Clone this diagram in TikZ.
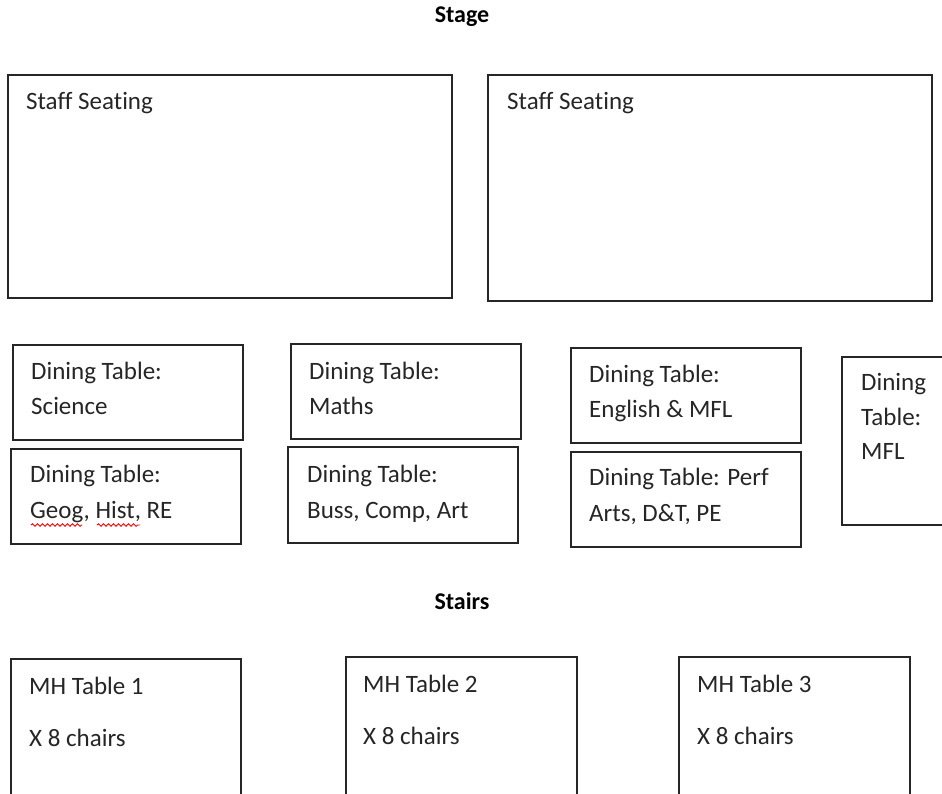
\documentclass[tikz,border=0pt]{standalone}
\usepackage{fontspec}
\setmainfont{Carlito}[Ligatures={NoCommon}]
\usetikzlibrary{decorations.pathmorphing}
\tikzset{
  tbl/.style={draw=black!85, line width=1.3pt},
  lbl/.style={anchor=base west, inner sep=0pt, font=\fontsize{25}{30}\selectfont, text=black!85},
  ttl/.style={anchor=base, inner sep=0pt, font=\fontsize{24}{28}\selectfont\bfseries},
  spell/.style={draw=red, line width=0.9pt, decorate, decoration={snake, amplitude=1.3pt, segment length=5pt}}
}
\begin{document}
\begin{tikzpicture}[x=1pt,y=-1pt]
\useasboundingbox (0,0) rectangle (942,793);
\fill[white] (0,0) rectangle (942,793);
\clip (0,0) rectangle (942,793);
% titles
\node[ttl] (stage) at (462,22) {Stage};
\node[ttl] (stairs) at (462,609) {Stairs};
% staff seating
\draw[tbl] (8,75) rectangle (452,298);
\node[lbl] (ss1t) at (26,109) {Staff Seating};
\draw[tbl] (488,75) rectangle (932,301);
\node[lbl] (ss2t) at (507,109) {Staff Seating};
% dining tables row 1
\draw[tbl] (13,345) rectangle (243,440);
\node[lbl] (sci1) at (31,379) {Dining Table:};
\node[lbl] (sci2) at (31,414) {Science};
\draw[tbl] (291,344) rectangle (521,439);
\node[lbl] (mat1) at (309,379) {Dining Table:};
\node[lbl] (mat2) at (309,414) {Maths};
\draw[tbl] (571,348) rectangle (801,443);
\node[lbl] (eng1) at (589,382) {Dining Table:};
\node[lbl] (eng2) at (589,417) {English \& MFL};
% dining tables row 2
\draw[tbl] (11,449) rectangle (241,544);
\node[lbl] (geo1) at (30,482) {Dining Table:};
\node[lbl] (geo2) at (30,518) {Geog, Hist, RE};
\draw[spell] (31,525) -- (82,525);
\draw[spell] (97,525) -- (140,525);
\draw[tbl] (288,447) rectangle (518,543);
\node[lbl] (bus1) at (307,482) {Dining Table:};
\node[lbl] (bus2) at (307,518) {Buss, Comp, Art};
\draw[tbl] (571,452) rectangle (801,547);
\node[lbl] (prf1) at (589,485) {Dining Table: Perf};
\node[lbl] (prf2) at (589,521) {Arts, D\&T, PE};
% MFL
\draw[tbl] (842,357) rectangle (970,525);
\node[lbl] (mfl1) at (861,390) {Dining};
\node[lbl] (mfl2) at (861,425) {Table:};
\node[lbl] (mfl3) at (861,459) {MFL};
% MH tables
\draw[tbl] (11,659) rectangle (241,830);
\node[lbl] (mh1a) at (29,694) {MH Table 1};
\node[lbl] (mh1b) at (29,746) {X 8 chairs};
\draw[tbl] (346,657) rectangle (577,830);
\node[lbl] (mh2a) at (363,692) {MH Table 2};
\node[lbl] (mh2b) at (363,744) {X 8 chairs};
\draw[tbl] (679,657) rectangle (910,830);
\node[lbl] (mh3a) at (697,692) {MH Table 3};
\node[lbl] (mh3b) at (697,744) {X 8 chairs};
\end{tikzpicture}
\end{document}
